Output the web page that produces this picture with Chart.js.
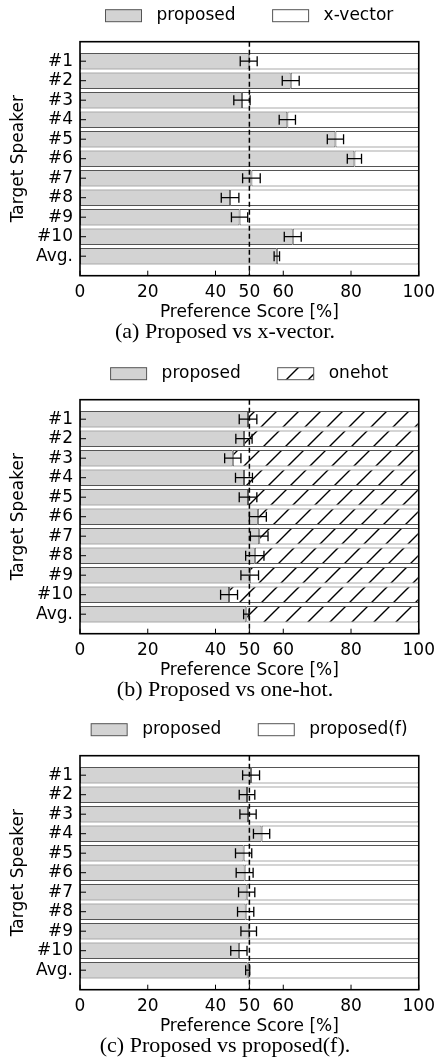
<!DOCTYPE html>
<html>
<head>
<meta charset="utf-8">
<script src="https://cdn.jsdelivr.net/npm/chart.js@4.4.1/dist/chart.umd.min.js"></script>
<style>
  body { margin: 0; background: #fff; }
  .panel { position: absolute; left: 0; width: 442px; height: 357px; }
</style>
</head>
<body>
<div class="panel" style="top:0px"><canvas id="chartA" width="442" height="357"></canvas></div>
<div class="panel" style="top:358px"><canvas id="chartB" width="442" height="357"></canvas></div>
<div class="panel" style="top:714px"><canvas id="chartC" width="442" height="357"></canvas></div>
<script>
// Data
const speakers = ['#1', '#2', '#3', '#4', '#5', '#6', '#7', '#8', '#9', '#10', 'Avg.'];
const xTicks = [0, 20, 40, 50, 60, 80, 100];

// (a) proposed vs x-vector
const proposedA = [49.8, 62.2, 47.8, 61.2, 75.4, 81.0, 50.6, 44.3, 47.1, 62.8, 58.1];
const errA = [2.5, 2.5, 2.4, 2.4, 2.4, 2.1, 2.6, 2.6, 2.4, 2.5, 0.8];
// (b) proposed vs onehot
const proposedB = [49.6, 48.4, 45.1, 48.4, 49.6, 52.5, 52.9, 51.6, 50.1, 44.0, 49.1];
const errB = [2.6, 2.4, 2.4, 2.5, 2.6, 2.5, 2.6, 2.7, 2.6, 2.5, 0.8];
// (c) proposed vs proposed(f)
const proposedC = [50.5, 49.3, 49.6, 53.6, 48.3, 48.6, 49.2, 48.9, 49.8, 46.9, 49.5];
const errC = [2.5, 2.3, 2.4, 2.4, 2.4, 2.5, 2.4, 2.4, 2.3, 2.4, 0.6];

Chart.defaults.font.family = "'DejaVu Sans'";
Chart.defaults.font.size = 17;
Chart.defaults.color = '#000';

// empty slot above and below, like the axis margins in the original
const yLabels = [''].concat(speakers, ['']);

function hatchPattern() {
  const c = document.createElement('canvas');
  c.width = 22; c.height = 22;
  const g = c.getContext('2d');
  g.fillStyle = '#fff';
  g.fillRect(0, 0, 22, 22);
  g.strokeStyle = '#000';
  g.lineWidth = 1.4;
  g.beginPath();
  g.moveTo(0, 22); g.lineTo(22, 0);
  g.moveTo(-11, 11); g.lineTo(11, -11);
  g.moveTo(11, 33); g.lineTo(33, 11);
  g.stroke();
  return g.createPattern(c, 'repeat');
}

// error bars, dashed 50% line, inner ticks, frame and the legend row
const decor = {
  id: 'decor',
  afterDatasetsDraw(chart, args, opts) {
    const { ctx, chartArea: a } = chart;
    const x = chart.scales.x, y = chart.scales.y;
    ctx.save();
    ctx.strokeStyle = '#000';

    ctx.lineWidth = 1.3;
    opts.values.forEach((v, i) => {
      const py = y.getPixelForValue(i + 1);
      const x1 = x.getPixelForValue(v - opts.errors[i]);
      const x2 = x.getPixelForValue(v + opts.errors[i]);
      ctx.beginPath();
      ctx.moveTo(x1, py); ctx.lineTo(x2, py);
      ctx.moveTo(x1, py - 5); ctx.lineTo(x1, py + 5);
      ctx.moveTo(x2, py - 5); ctx.lineTo(x2, py + 5);
      ctx.stroke();
    });

    const x50 = x.getPixelForValue(50);
    ctx.lineWidth = 1.5;
    ctx.setLineDash([5, 3]);
    ctx.beginPath();
    ctx.moveTo(x50, a.top); ctx.lineTo(x50, a.bottom);
    ctx.stroke();
    ctx.setLineDash([]);

    ctx.lineWidth = 1;
    ctx.beginPath();
    x.ticks.forEach(t => {
      const px = x.getPixelForValue(t.value);
      ctx.moveTo(px, a.bottom); ctx.lineTo(px, a.bottom - 5);
    });
    yLabels.forEach((lab, i) => {
      if (!lab) return;
      const py = y.getPixelForTick(i);
      ctx.moveTo(a.left, py); ctx.lineTo(a.left + 6, py);
    });
    ctx.stroke();

    ctx.lineWidth = 1.6;
    ctx.strokeRect(a.left, a.top, a.width, a.height);

    // legend, centred over the plot area like the matplotlib one
    ctx.font = "17px 'DejaVu Sans'";
    ctx.textBaseline = 'middle';
    const sets = chart.data.datasets;
    const boxW = 36, boxH = 12, gapText = 15, gapItem = 37;
    const widths = sets.map(d => ctx.measureText(d.label).width);
    let total = sets.length * (boxW + gapText) + gapItem * (sets.length - 1);
    widths.forEach(w => { total += w; });
    let lx = (a.left + a.right) / 2 - total / 2;
    const ly = a.top - 26;
    sets.forEach((d, i) => {
      ctx.fillStyle = d.backgroundColor;
      ctx.fillRect(lx, ly - boxH / 2, boxW, boxH);
      ctx.strokeStyle = d.borderColor;
      ctx.lineWidth = 1;
      ctx.strokeRect(lx, ly - boxH / 2, boxW, boxH);
      ctx.fillStyle = '#000';
      ctx.fillText(d.label, lx + boxW + gapText, ly);
      lx += boxW + gapText + widths[i] + gapItem;
    });
    ctx.restore();
  }
};

function makePanel(id, otherName, values, errors, otherFill, caption) {
  const ctx = document.getElementById(id).getContext('2d');
  new Chart(ctx, {
    type: 'bar',
    data: {
      labels: yLabels,
      datasets: [{
        label: 'proposed',
        data: [null].concat(values, [null]),
        backgroundColor: '#d3d3d3',
        borderColor: '#555',
        borderWidth: 1,
        borderSkipped: false,
        grouped: false,
        barPercentage: 0.85,
        categoryPercentage: 1,
        xAxisID: 'x',
        yAxisID: 'y'
      }, {
        label: otherName,
        data: [null].concat(values.map(v => [v, 100]), [null]),
        backgroundColor: otherFill,
        borderColor: '#555',
        borderWidth: 1,
        borderSkipped: false,
        grouped: false,
        barPercentage: 0.85,
        categoryPercentage: 1,
        xAxisID: 'x',
        yAxisID: 'y'
      }]
    },
    options: {
      indexAxis: 'y',
      responsive: false,
      animation: false,
      layout: { padding: { top: 41.7, left: 8, right: 0, bottom: 11.8 } },
      scales: {
        x: {
          type: 'linear',
          position: 'bottom',
          min: 0,
          max: 100,
          afterBuildTicks: scale => { scale.ticks = xTicks.map(v => ({ value: v })); },
          afterFit: scale => { scale.height = 47.5; },
          grid: { display: false, drawTicks: false },
          border: { display: false },
          ticks: { padding: 7, font: { size: 17 } },
          title: { display: true, text: 'Preference Score [%]', font: { size: 17 }, padding: 0 }
        },
        y: {
          type: 'category',
          position: 'left',
          offset: false,
          afterFit: scale => { scale.width = 72; },
          grid: { display: false, drawTicks: false },
          border: { display: false },
          ticks: { autoSkip: false, padding: 7, font: { size: 17 } },
          title: { display: true, text: 'Target Speaker', font: { size: 17 }, padding: 0 }
        },
        yRight: {
          type: 'linear',
          position: 'right',
          afterFit: scale => { scale.width = 18; },
          grid: { display: false, drawTicks: false },
          border: { display: false },
          ticks: { display: false }
        }
      },
      plugins: {
        legend: { display: false },
        title: {
          display: true,
          position: 'bottom',
          text: caption,
          color: '#000',
          font: { family: "'Liberation Serif'", size: 22, weight: 'normal' },
          padding: { top: -4.4, bottom: 0 }
        },
        tooltip: { enabled: false },
        decor: { values: values, errors: errors }
      }
    },
    plugins: [decor]
  });
}

makePanel('chartA', 'x-vector', proposedA, errA, '#ffffff', '(a) Proposed vs x-vector.');
makePanel('chartB', 'onehot', proposedB, errB, hatchPattern(), '(b) Proposed vs one-hot.');
makePanel('chartC', 'proposed(f)', proposedC, errC, '#ffffff', '(c) Proposed vs proposed(f).');
</script>
</body>
</html>
